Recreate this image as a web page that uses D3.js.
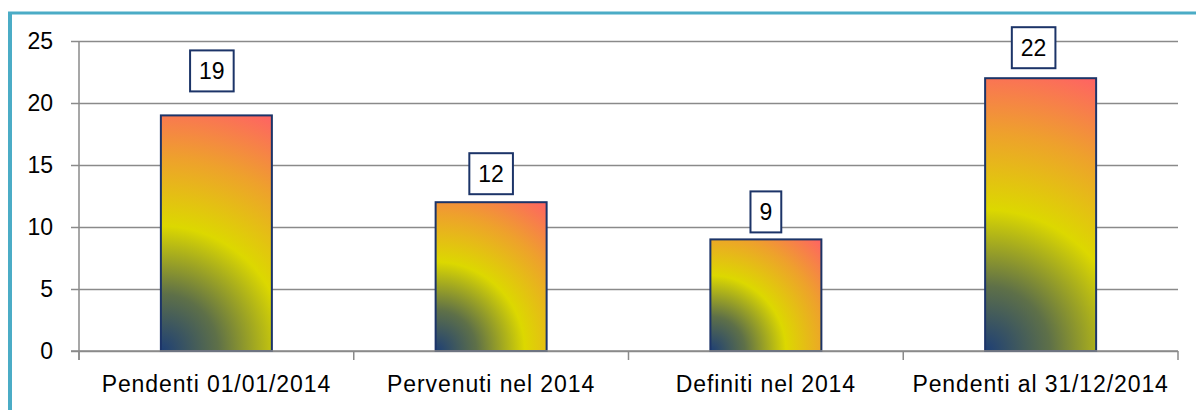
<!DOCTYPE html>
<html>
<head>
<meta charset="utf-8">
<script src="https://cdn.jsdelivr.net/npm/d3@7"></script>
<style>
  html, body { margin: 0; padding: 0; background: #fff; }
  svg { display: block; }
  text { font-family: "Liberation Sans", Arial, sans-serif; fill: #000; }
</style>
</head>
<body>
<svg id="chart" width="1196" height="410"></svg>
<script>
// Procedimenti: pendenti, pervenuti e definiti nel 2014
const categories = ["Pendenti 01/01/2014", "Pervenuti nel 2014", "Definiti nel 2014", "Pendenti al 31/12/2014"];
const values = [19, 12, 9, 22];
const yTicks = [0, 5, 10, 15, 20, 25];

// label box nudges (px) above each bar
const labelLift = [24, 8, 7, 10];
const labelShift = [-4.5, 0, 0, -7];

const W = 1196, H = 410;
const margin = { left: 79, right: 18, top: 41, bottom: 59 };
const plotW = W - margin.right - margin.left;
const svg = d3.select("#chart");

const x = d3.scaleBand()
  .domain(categories)
  .range([margin.left, W - margin.right]);

const y = d3.scaleLinear()
  .domain([0, 25])
  .range([H - margin.bottom, margin.top]);

const gridColor = "#8a8a8a";
const navy = "#1c3468";
const barW = 111;

// frame (teal, left and top)
svg.append("line").attr("x1", 10).attr("x2", 10).attr("y1", 12).attr("y2", H)
  .attr("stroke", "#4bacc6").attr("stroke-width", 4);
svg.append("line").attr("x1", 8).attr("x2", W).attr("y1", 13).attr("y2", 13)
  .attr("stroke", "#4bacc6").attr("stroke-width", 3);

// gridlines + y tick labels
const gy = svg.append("g")
  .attr("transform", `translate(${margin.left - 8},0)`)
  .call(d3.axisLeft(y).tickValues(yTicks).tickSize(0).tickPadding(18).tickFormat(d3.format("d")));
gy.select(".domain").remove();
gy.selectAll(".tick line")
  .attr("x1", 0)
  .attr("x2", plotW + 8)
  .attr("stroke", gridColor).attr("stroke-width", 1.5);
gy.selectAll(".tick text")
  .attr("font-size", 23)
  .style("font-family", "'Liberation Sans', Arial, sans-serif");

// y axis line
svg.append("line")
  .attr("x1", margin.left).attr("x2", margin.left)
  .attr("y1", y(25)).attr("y2", y(0) + 9)
  .attr("stroke", gridColor).attr("stroke-width", 1.5);

// category boundary ticks
const boundaryX = categories.map(c => x(c)).concat([x.range()[1]]);
svg.append("g").selectAll("line")
  .data(boundaryX)
  .join("line")
  .attr("x1", d => d).attr("x2", d => d)
  .attr("y1", y(0)).attr("y2", y(0) + 9)
  .attr("stroke", gridColor).attr("stroke-width", 1.5);

// category labels
svg.append("g").selectAll("text")
  .data(categories)
  .join("text")
  .attr("x", d => x(d) + x.bandwidth() / 2)
  .attr("y", y(0) + 41)
  .attr("text-anchor", "middle")
  .attr("font-size", 23)
  .attr("letter-spacing", "0.9px")
  .text(d => d);

// per-bar radial gradients from the bottom-left corner
const barX = (d, i) => x(categories[i]) + x.bandwidth() / 2 - barW / 2;
const defs = svg.append("defs");
values.forEach((v, i) => {
  const x0 = barX(v, i), y0 = y(0), h = y(0) - y(v);
  const r = Math.sqrt(barW * barW + h * h);
  const g = defs.append("radialGradient")
    .attr("id", "barGrad" + i)
    .attr("gradientUnits", "userSpaceOnUse")
    .attr("cx", x0).attr("cy", y0).attr("fx", x0).attr("fy", y0).attr("r", r);
  [[0, "#1e3f75"], [0.22, "#5e7048"], [0.48, "#dcd800"], [0.74, "#eea12c"], [1, "#ff6264"]]
    .forEach(([o, c]) => g.append("stop").attr("offset", o).attr("stop-color", c));
});

// bars
svg.append("g").selectAll("rect")
  .data(values)
  .join("rect")
  .attr("x", barX)
  .attr("y", d => y(d))
  .attr("width", barW)
  .attr("height", d => y(0) - y(d))
  .attr("fill", (d, i) => `url(#barGrad${i})`)
  .attr("stroke", navy)
  .attr("stroke-width", 2);

// baseline over bar bottoms
svg.append("line")
  .attr("x1", margin.left - 8).attr("x2", W - margin.right)
  .attr("y1", y(0)).attr("y2", y(0))
  .attr("stroke", gridColor).attr("stroke-width", 1.5);

// value labels in boxes
svg.append("g").selectAll("g")
  .data(values)
  .join("g")
  .each(function (v, i) {
    const g = d3.select(this);
    const cx = barX(v, i) + barW / 2 + labelShift[i];
    const bottom = y(v) - labelLift[i];
    const t = g.append("text")
      .attr("x", cx)
      .attr("y", bottom - 41 / 2)
      .attr("dy", "0.36em")
      .attr("text-anchor", "middle")
      .attr("font-size", 23)
      .text(v);
    const tw = t.node().getComputedTextLength();
    g.insert("rect", "text")
      .attr("x", cx - tw / 2 - 9)
      .attr("y", bottom - 41)
      .attr("width", tw + 18)
      .attr("height", 41)
      .attr("fill", "#fff")
      .attr("stroke", navy)
      .attr("stroke-width", 2);
  });
</script>
</body>
</html>
